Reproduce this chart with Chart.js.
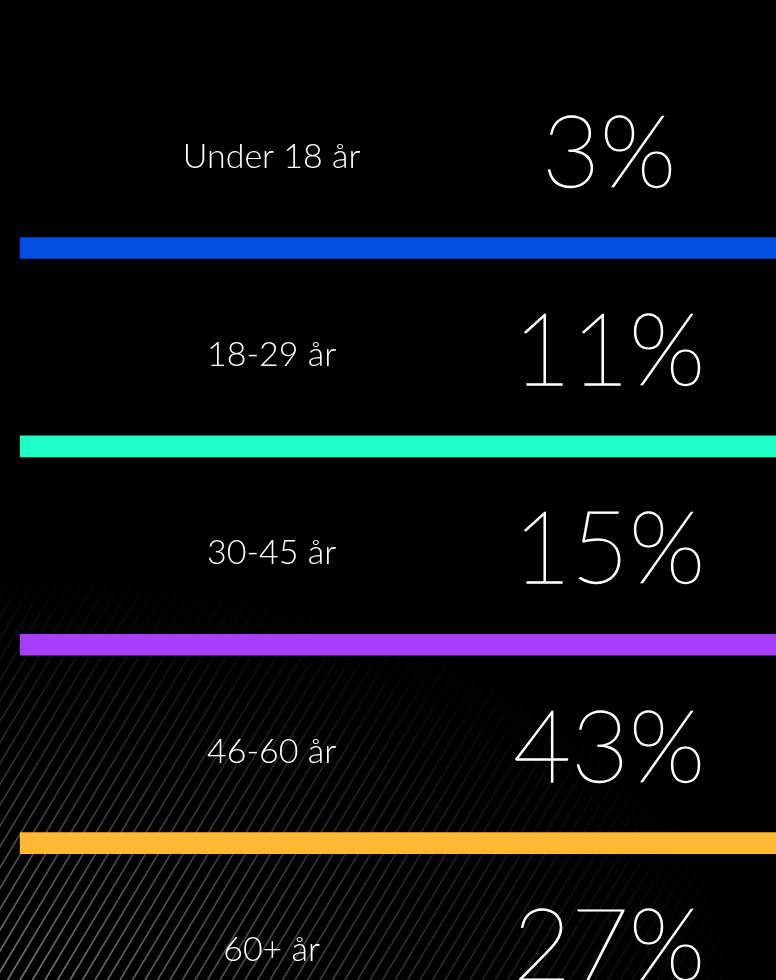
<!DOCTYPE html>
<html lang="sv">

<head>
    <meta charset="UTF-8">
    <title>Åldersfördelning</title>
    <script src="https://cdn.jsdelivr.net/npm/chart.js"></script>
    <style>
        body {
            margin: 0;
            background-color: #000000;
        }

        .chart-container {
            position: relative;
            width: 776px;
            height: 980px;
        }
    </style>
</head>

<body>
    <div class="chart-container">
        <canvas id="ageChart"></canvas>
    </div>
    <script>
        const categories = ["Under 18 år", "18-29 år", "30-45 år", "46-60 år", "60+ år"];
        const shares = [3, 11, 15, 43, 27];
        const dividerColors = ["#034ee0", "#1effc8", "#a83efd", "#feb834"];

        // divider bar sits just below each row, full width
        const dividerData = dividerColors.map((c, i) => ({ x: [0.026, 1], y: i + 0.46 }));

        // diagonal gray stripes fading out from the bottom-left corner
        const stripesPlugin = {
            id: "stripes",
            beforeDraw(chart) {
                const { ctx, width, height } = chart;
                ctx.save();
                ctx.fillStyle = "#000000";
                ctx.fillRect(0, 0, width, height);
                ctx.strokeStyle = "#787878";
                ctx.lineWidth = 1.6;
                const step = 12.5, slope = 0.6, seg = 8;
                for (let x0 = -height; x0 < width; x0 += step) {
                    for (let y = height; y > 0; y -= seg) {
                        const xa = x0 + (height - y) * slope;
                        const xb = xa + seg * slope;
                        const mx = (xa + xb) / 2, my = y - seg / 2;
                        if (mx < -10 || mx > width + 10) continue;
                        const d = Math.hypot(mx / 780, (height - my) / 430);
                        if (d >= 1) continue;
                        ctx.globalAlpha = Math.pow(1 - d, 1.3);
                        ctx.beginPath();
                        ctx.moveTo(xa, y);
                        ctx.lineTo(xb, y - seg);
                        ctx.stroke();
                    }
                }
                ctx.restore();
            }
        };

        const textPlugin = {
            id: "rowText",
            afterDatasetsDraw(chart) {
                const { ctx, scales } = chart;
                ctx.save();
                ctx.fillStyle = "#ffffff";
                ctx.strokeStyle = "#ffffff";
                ctx.textAlign = "center";
                ctx.textBaseline = "alphabetic";
                categories.forEach((label, i) => {
                    const y = scales.y.getPixelForValue(i);
                    ctx.font = "300 34px Lato";
                    ctx.fillText(label, scales.x.getPixelForValue(0.35), y + 11);
                    ctx.font = "100 100px Lato";
                    ctx.lineWidth = 1.3;
                    const px = scales.x.getPixelForValue(0.785);
                    ctx.fillText(shares[i] + "%", px, y + 30);
                    ctx.strokeText(shares[i] + "%", px, y + 30);
                });
                ctx.restore();
            }
        };

        window.onload = () => {
            const ctx = document.getElementById("ageChart").getContext("2d");
            new Chart(ctx, {
                type: "bar",
                data: {
                    datasets: [{
                        data: dividerData,
                        backgroundColor: dividerColors,
                        borderWidth: 0,
                        barThickness: 21
                    }]
                },
                options: {
                    indexAxis: "y",
                    responsive: true,
                    maintainAspectRatio: false,
                    animation: false,
                    layout: { padding: 0 },
                    plugins: {
                        legend: { display: false },
                        tooltip: { enabled: false }
                    },
                    scales: {
                        x: { type: "linear", min: 0, max: 1, display: false },
                        y: { type: "linear", min: -0.79, max: 4.15, reverse: true, offset: false, display: false }
                    }
                },
                plugins: [stripesPlugin, textPlugin]
            });
        };
    </script>
</body>

</html>
